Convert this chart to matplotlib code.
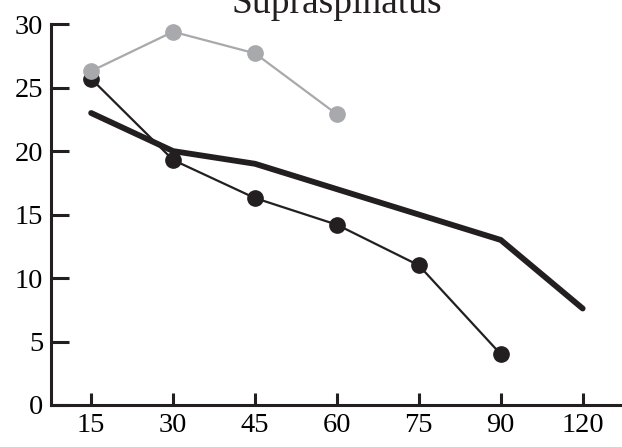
import matplotlib.pyplot as plt

plt.rcParams['font.family'] = 'Liberation Serif'

angles = ['15', '30', '45', '60', '75', '90', '120']
reference = [23.0, 20.0, 19.0, 17.0, 15.0, 13.0, 7.6]
black_vals = [25.7, 19.3, 16.3, 14.2, 11.0, 4.0]
gray_vals = [26.3, 29.4, 27.7, 22.9]

fig = plt.figure(figsize=(6.22, 4.47), dpi=100)
ax = fig.add_axes([0.082, 0.094, 0.918, 0.852])

pos = list(range(len(angles)))

ax.plot(pos, reference, color='#231f20', linewidth=4.2,
        solid_capstyle='round', solid_joinstyle='miter', zorder=2)
ax.plot(pos[:len(black_vals)], black_vals, color='#231f20', linewidth=1.6,
        marker='o', markersize=11, zorder=3)
ax.plot(pos[:len(gray_vals)], gray_vals, color='#a7a9ac', linewidth=1.6,
        marker='o', markersize=11, zorder=4)

ax.set_xlim(-0.49, 6.48)
ax.set_ylim(0, 30)
ax.set_xticks(pos)
ax.set_xticklabels(angles)
ax.set_yticks([0, 5, 10, 15, 20, 25, 30])

for side in ['top', 'right']:
    ax.spines[side].set_visible(False)
for side in ['left', 'bottom']:
    ax.spines[side].set_linewidth(2.2)
    ax.spines[side].set_color('#231f20')

ax.tick_params(axis='y', direction='in', length=13, width=2.2,
               color='#231f20', labelsize=20.5, pad=5.5)
ax.tick_params(axis='x', direction='in', length=9, width=2.2,
               color='#231f20', labelsize=20.5, pad=6)

ax.text(0.5, 1.03, 'Supraspinatus', transform=ax.transAxes,
        ha='center', va='baseline', fontsize=27, color='#231f20')

fig.savefig('out.png', dpi=100)
